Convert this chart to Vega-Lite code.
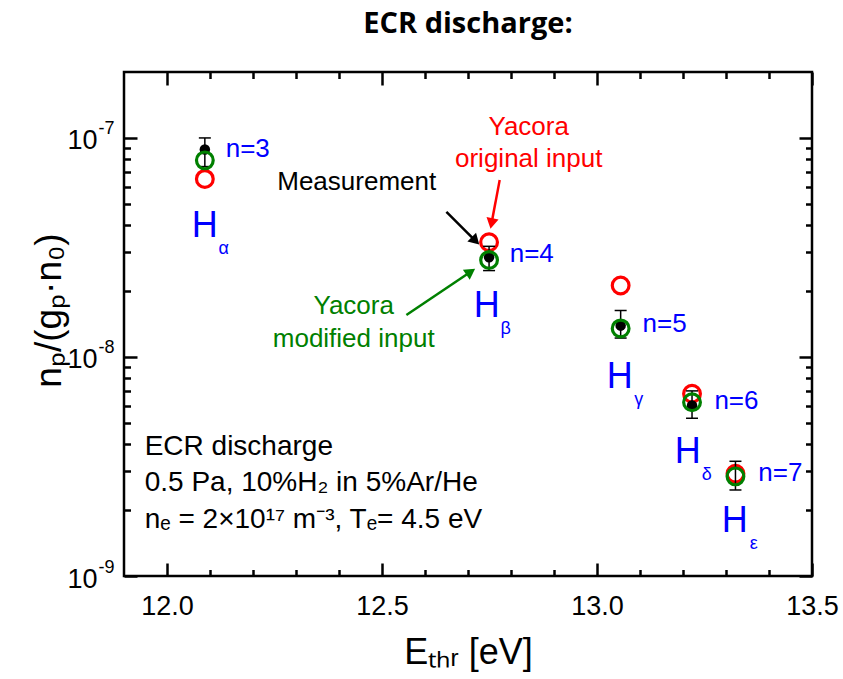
{
  "$schema": "https://vega.github.io/schema/vega-lite/v6.json",
  "width": 688,
  "height": 504,
  "autosize": {"type": "none"},
  "padding": {"left": 124, "top": 72, "right": 31, "bottom": 103},
  "background": "white",
  "title": {"text": "ECR discharge:", "font": "Open Sans", "fontSize": 29, "fontWeight": "bold", "anchor": "middle", "baseline": "alphabetic", "offset": 9, "color": "black"},
  "config": {
    "view": {"stroke": "black", "strokeWidth": 2.5},
    "axis": {"grid": false, "domain": false, "tickColor": "black", "tickWidth": 2.5, "labelColor": "black", "titleColor": "black", "labelFont": "Liberation Sans", "titleFont": "Liberation Sans", "titleFontWeight": "normal", "labelOverlap": false, "labelFlush": false}
  },
  "datasets": {
    "pts": [
      {"line": "α", "E": 12.088, "meas": 8.85e-8, "errLo": 7.4e-8, "errHi": 1.0e-7, "orig": 6.5e-8, "mod": 7.9e-8},
      {"line": "β", "E": 12.749, "meas": 2.85e-8, "errLo": 2.48e-8, "errHi": 3.2e-8, "orig": 3.34e-8, "mod": 2.77e-8},
      {"line": "γ", "E": 13.055, "meas": 1.39e-8, "errLo": 1.22e-8, "errHi": 1.63e-8, "orig": 2.12e-8, "mod": 1.35e-8},
      {"line": "δ", "E": 13.221, "meas": 6.0e-9, "errLo": 5.25e-9, "errHi": 7.0e-9, "orig": 6.79e-9, "mod": 6.21e-9},
      {"line": "ε", "E": 13.322, "meas": null, "errLo": 2.47e-9, "errHi": 3.34e-9, "orig": 2.93e-9, "mod": 2.85e-9}
    ],
    "hlab": [
      {"E": 12.0877, "v": 3.96e-8, "h": "H", "s": "α"},
      {"E": 12.7435, "v": 1.70e-8, "h": "H", "s": "β"},
      {"E": 13.0528, "v": 8.14e-9, "h": "H", "s": "γ"},
      {"E": 13.2109, "v": 3.70e-9, "h": "H", "s": "δ"},
      {"E": 13.3202, "v": 1.78e-9, "h": "H", "s": "ε"}
    ],
    "nlab": [
      {"E": 12.1365, "v": 8.9e-8, "t": "n=3"},
      {"E": 12.797, "v": 2.95e-8, "t": "n=4"},
      {"E": 13.106, "v": 1.42e-8, "t": "n=5"},
      {"E": 13.273, "v": 6.29e-9, "t": "n=6"},
      {"E": 13.375, "v": 2.96e-9, "t": "n=7"}
    ],
    "redt": [
      {"E": 12.8412, "v": 1.122e-7, "t": "Yacora"},
      {"E": 12.8412, "v": 8.01e-8, "t": "original input"}
    ],
    "blackt": [
      {"E": 12.4412, "v": 6.28e-8, "t": "Measurement"}
    ],
    "greent": [
      {"E": 12.4342, "v": 1.708e-8, "t": "Yacora"},
      {"E": 12.4342, "v": 1.207e-8, "t": "modified input"}
    ],
    "info": [
      {"E": 11.9481, "v": 3.89e-9, "t": "ECR discharge"},
      {"E": 11.9481, "v": 2.656e-9, "t": "0.5 Pa, 10%H₂ in 5%Ar/He"},
      {"E": 11.9481, "v": 1.80e-9, "t": "nₑ = 2×10¹⁷ m⁻³, Tₑ= 4.5 eV"}
    ],
    "arrred": [{"E": 12.7737, "v": 6.43e-8, "E2": 12.7547, "v2": 4.07e-8}],
    "arrblack": [{"E": 12.6498, "v": 4.60e-8, "E2": 12.7174, "v2": 3.39e-8}],
    "arrgreen": [{"E": 12.5567, "v": 1.554e-8, "E2": 12.7063, "v2": 2.449e-8}]
  },
  "resolve": {"axis": {"x": "independent", "y": "independent"}},
  "layer": [
    {
      "data": {"name": "pts"},
      "mark": {"type": "point", "shape": "circle", "filled": false, "color": "#ff0000", "strokeWidth": 3.2, "size": 280, "opacity": 1},
      "encoding": {
        "x": {"field": "E", "type": "quantitative", "scale": {"type": "linear", "domain": [11.9, 13.5], "nice": false, "zero": false},
          "axis": {"orient": "bottom", "values": [12, 12.5, 13, 13.5], "format": ".1f", "ticks": false, "labelPadding": 17, "labelFontSize": 27, "title": "Eₜₕᵣ [eV]", "titleFontSize": 36, "titleBaseline": "alphabetic", "titleY": 87}},
        "y": {"field": "orig", "type": "quantitative", "scale": {"type": "log", "domain": [1e-9, 2e-7], "nice": false},
          "axis": {"orient": "left", "values": [1e-9, 1e-8, 1e-7], "labelExpr": "'10'", "ticks": false, "labelPadding": 27, "labelFontSize": 27, "labelAlign": "right", "labelBaseline": "middle", "labelOffset": 3, "title": "nₚ/(gₚ·n₀)", "titleFontSize": 37, "titleBaseline": "alphabetic", "titleX": -64, "titleY": 238, "titleAngle": -90, "titleAlign": "center"}}
      }
    },
    {
      "data": {"name": "pts"},
      "mark": {"type": "rule", "color": "black", "strokeWidth": 1.5},
      "encoding": {
        "x": {"field": "E", "type": "quantitative", "scale": {"type": "linear", "domain": [11.9, 13.5], "nice": false, "zero": false},
          "axis": {"orient": "bottom", "values": [12, 12.5, 13, 13.5], "labels": false, "tickSize": -13, "title": null}},
        "y": {"field": "errLo", "type": "quantitative", "scale": {"type": "log", "domain": [1e-9, 2e-7], "nice": false},
          "axis": {"orient": "left", "values": [1e-9, 1e-8, 1e-7], "ticks": false, "labelExpr": "datum.value < 5e-9 ? '-9' : datum.value < 5e-8 ? '-8' : '-7'", "labelFontSize": 18, "labelAlign": "left", "labelPadding": 26, "labelOffset": -9, "labelBaseline": "middle", "title": null}},
        "y2": {"field": "errHi"}
      }
    },
    {
      "data": {"name": "pts"},
      "mark": {"type": "tick", "orient": "horizontal", "color": "black", "thickness": 1.5, "size": 12, "opacity": 1},
      "encoding": {
        "x": {"field": "E", "type": "quantitative", "scale": {"type": "linear", "domain": [11.9, 13.5], "nice": false, "zero": false},
          "axis": {"orient": "bottom", "values": [12.1, 12.2, 12.3, 12.4, 12.6, 12.7, 12.8, 12.9, 13.1, 13.2, 13.3, 13.4], "labels": false, "tickSize": -6.5, "title": null}},
        "y": {"field": "errHi", "type": "quantitative", "scale": {"type": "log", "domain": [1e-9, 2e-7], "nice": false},
          "axis": {"orient": "left", "values": [1e-9, 1e-8, 1e-7], "labels": false, "tickSize": -13, "title": null}}
      }
    },
    {
      "data": {"name": "pts"},
      "mark": {"type": "tick", "orient": "horizontal", "color": "black", "thickness": 1.5, "size": 12, "opacity": 1},
      "encoding": {
        "x": {"field": "E", "type": "quantitative", "scale": {"type": "linear", "domain": [11.9, 13.5], "nice": false, "zero": false},
          "axis": {"orient": "top", "values": [12, 12.5, 13, 13.5], "labels": false, "tickSize": -13, "title": null}},
        "y": {"field": "errLo", "type": "quantitative", "scale": {"type": "log", "domain": [1e-9, 2e-7], "nice": false},
          "axis": {"orient": "left", "values": [2e-9, 3e-9, 4e-9, 5e-9, 6e-9, 7e-9, 8e-9, 9e-9, 2e-8, 3e-8, 4e-8, 5e-8, 6e-8, 7e-8, 8e-8, 9e-8], "labels": false, "tickSize": -6.5, "title": null}}
      }
    },
    {
      "data": {"name": "pts"},
      "mark": {"type": "circle", "color": "black", "size": 110, "opacity": 1},
      "encoding": {
        "x": {"field": "E", "type": "quantitative", "scale": {"type": "linear", "domain": [11.9, 13.5], "nice": false, "zero": false},
          "axis": {"orient": "top", "values": [12.1, 12.2, 12.3, 12.4, 12.6, 12.7, 12.8, 12.9, 13.1, 13.2, 13.3, 13.4], "labels": false, "tickSize": -6.5, "title": null}},
        "y": {"field": "meas", "type": "quantitative", "scale": {"type": "log", "domain": [1e-9, 2e-7], "nice": false},
          "axis": {"orient": "right", "values": [1e-9, 1e-8, 1e-7], "labels": false, "tickSize": -13, "title": null}}
      }
    },
    {
      "data": {"name": "pts"},
      "mark": {"type": "point", "shape": "circle", "filled": false, "color": "#008000", "strokeWidth": 3.2, "size": 280, "opacity": 1},
      "encoding": {
        "x": {"field": "E", "type": "quantitative", "scale": {"type": "linear", "domain": [11.9, 13.5], "nice": false, "zero": false}, "axis": null},
        "y": {"field": "mod", "type": "quantitative", "scale": {"type": "log", "domain": [1e-9, 2e-7], "nice": false},
          "axis": {"orient": "right", "values": [2e-9, 3e-9, 4e-9, 5e-9, 6e-9, 7e-9, 8e-9, 9e-9, 2e-8, 3e-8, 4e-8, 5e-8, 6e-8, 7e-8, 8e-8, 9e-8], "labels": false, "tickSize": -6.5, "title": null}}
      }
    },
    {
      "data": {"name": "arrred"},
      "mark": {"type": "rule", "color": "#ff0000", "strokeWidth": 2.5},
      "encoding": {
        "x": {"field": "E", "type": "quantitative", "scale": {"type": "linear", "domain": [11.9, 13.5], "nice": false, "zero": false}, "axis": null},
        "y": {"field": "v", "type": "quantitative", "scale": {"type": "log", "domain": [1e-9, 2e-7], "nice": false}, "axis": null},
        "x2": {"field": "E2"},
        "y2": {"field": "v2"}
      }
    },
    {
      "data": {"name": "arrred"},
      "mark": {"type": "point", "shape": "triangle-up", "filled": true, "color": "#ff0000", "size": 150, "angle": 191, "opacity": 1},
      "encoding": {
        "x": {"field": "E2", "type": "quantitative", "scale": {"type": "linear", "domain": [11.9, 13.5], "nice": false, "zero": false}, "axis": null},
        "y": {"field": "v2", "type": "quantitative", "scale": {"type": "log", "domain": [1e-9, 2e-7], "nice": false}, "axis": null}
      }
    },
    {
      "data": {"name": "arrblack"},
      "mark": {"type": "rule", "color": "black", "strokeWidth": 2.5},
      "encoding": {
        "x": {"field": "E", "type": "quantitative", "scale": {"type": "linear", "domain": [11.9, 13.5], "nice": false, "zero": false}, "axis": null},
        "y": {"field": "v", "type": "quantitative", "scale": {"type": "log", "domain": [1e-9, 2e-7], "nice": false}, "axis": null},
        "x2": {"field": "E2"},
        "y2": {"field": "v2"}
      }
    },
    {
      "data": {"name": "arrblack"},
      "mark": {"type": "point", "shape": "triangle-up", "filled": true, "color": "black", "size": 150, "angle": 135, "opacity": 1},
      "encoding": {
        "x": {"field": "E2", "type": "quantitative", "scale": {"type": "linear", "domain": [11.9, 13.5], "nice": false, "zero": false}, "axis": null},
        "y": {"field": "v2", "type": "quantitative", "scale": {"type": "log", "domain": [1e-9, 2e-7], "nice": false}, "axis": null}
      }
    },
    {
      "data": {"name": "arrgreen"},
      "mark": {"type": "rule", "color": "#008000", "strokeWidth": 2.5},
      "encoding": {
        "x": {"field": "E", "type": "quantitative", "scale": {"type": "linear", "domain": [11.9, 13.5], "nice": false, "zero": false}, "axis": null},
        "y": {"field": "v", "type": "quantitative", "scale": {"type": "log", "domain": [1e-9, 2e-7], "nice": false}, "axis": null},
        "x2": {"field": "E2"},
        "y2": {"field": "v2"}
      }
    },
    {
      "data": {"name": "arrgreen"},
      "mark": {"type": "point", "shape": "triangle-up", "filled": true, "color": "#008000", "size": 150, "angle": 56, "opacity": 1},
      "encoding": {
        "x": {"field": "E2", "type": "quantitative", "scale": {"type": "linear", "domain": [11.9, 13.5], "nice": false, "zero": false}, "axis": null},
        "y": {"field": "v2", "type": "quantitative", "scale": {"type": "log", "domain": [1e-9, 2e-7], "nice": false}, "axis": null}
      }
    },
    {
      "data": {"name": "nlab"},
      "mark": {"type": "text", "color": "#0000ff", "font": "Liberation Sans", "fontSize": 26, "align": "left", "baseline": "middle"},
      "encoding": {
        "x": {"field": "E", "type": "quantitative", "scale": {"type": "linear", "domain": [11.9, 13.5], "nice": false, "zero": false}, "axis": null},
        "y": {"field": "v", "type": "quantitative", "scale": {"type": "log", "domain": [1e-9, 2e-7], "nice": false}, "axis": null},
        "text": {"field": "t"}
      }
    },
    {
      "data": {"name": "hlab"},
      "mark": {"type": "text", "color": "#0000ff", "font": "Liberation Sans", "fontSize": 36, "align": "center", "baseline": "middle"},
      "encoding": {
        "x": {"field": "E", "type": "quantitative", "scale": {"type": "linear", "domain": [11.9, 13.5], "nice": false, "zero": false}, "axis": null},
        "y": {"field": "v", "type": "quantitative", "scale": {"type": "log", "domain": [1e-9, 2e-7], "nice": false}, "axis": null},
        "text": {"field": "h"}
      }
    },
    {
      "data": {"name": "hlab"},
      "mark": {"type": "text", "color": "#0000ff", "font": "Liberation Sans", "fontSize": 18, "align": "center", "baseline": "middle", "dx": 19, "dy": 23},
      "encoding": {
        "x": {"field": "E", "type": "quantitative", "scale": {"type": "linear", "domain": [11.9, 13.5], "nice": false, "zero": false}, "axis": null},
        "y": {"field": "v", "type": "quantitative", "scale": {"type": "log", "domain": [1e-9, 2e-7], "nice": false}, "axis": null},
        "text": {"field": "s"}
      }
    },
    {
      "data": {"name": "redt"},
      "mark": {"type": "text", "color": "#ff0000", "font": "Liberation Sans", "fontSize": 26, "align": "center", "baseline": "middle"},
      "encoding": {
        "x": {"field": "E", "type": "quantitative", "scale": {"type": "linear", "domain": [11.9, 13.5], "nice": false, "zero": false}, "axis": null},
        "y": {"field": "v", "type": "quantitative", "scale": {"type": "log", "domain": [1e-9, 2e-7], "nice": false}, "axis": null},
        "text": {"field": "t"}
      }
    },
    {
      "data": {"name": "blackt"},
      "mark": {"type": "text", "color": "black", "font": "Liberation Sans", "fontSize": 26, "align": "center", "baseline": "middle"},
      "encoding": {
        "x": {"field": "E", "type": "quantitative", "scale": {"type": "linear", "domain": [11.9, 13.5], "nice": false, "zero": false}, "axis": null},
        "y": {"field": "v", "type": "quantitative", "scale": {"type": "log", "domain": [1e-9, 2e-7], "nice": false}, "axis": null},
        "text": {"field": "t"}
      }
    },
    {
      "data": {"name": "greent"},
      "mark": {"type": "text", "color": "#008000", "font": "Liberation Sans", "fontSize": 26, "align": "center", "baseline": "middle"},
      "encoding": {
        "x": {"field": "E", "type": "quantitative", "scale": {"type": "linear", "domain": [11.9, 13.5], "nice": false, "zero": false}, "axis": null},
        "y": {"field": "v", "type": "quantitative", "scale": {"type": "log", "domain": [1e-9, 2e-7], "nice": false}, "axis": null},
        "text": {"field": "t"}
      }
    },
    {
      "data": {"name": "info"},
      "mark": {"type": "text", "color": "black", "font": "Liberation Sans", "fontSize": 28, "align": "left", "baseline": "middle"},
      "encoding": {
        "x": {"field": "E", "type": "quantitative", "scale": {"type": "linear", "domain": [11.9, 13.5], "nice": false, "zero": false}, "axis": null},
        "y": {"field": "v", "type": "quantitative", "scale": {"type": "log", "domain": [1e-9, 2e-7], "nice": false}, "axis": null},
        "text": {"field": "t"}
      }
    }
  ]
}
